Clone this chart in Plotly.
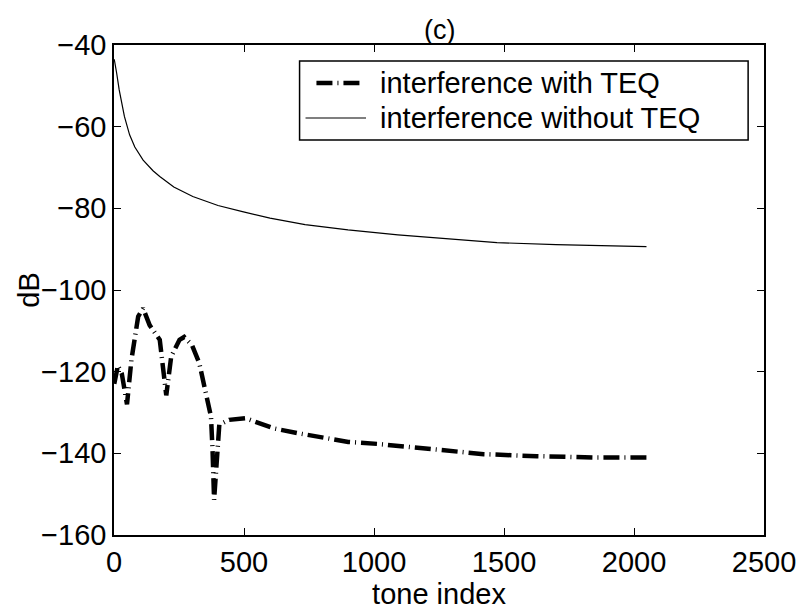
import plotly.graph_objects as go

# ---- data ----
tone_no_teq = [1, 5, 10, 20, 40, 60, 80, 112, 150, 176, 230, 303, 400, 494, 600, 735,
               900, 1092, 1300, 1473, 1700, 1855, 2048]
db_no_teq = [-43.5, -44.8, -46.8, -51.0, -57.5, -62.0, -65.0, -68.2, -70.8, -72.2, -74.8,
             -77.1, -79.3, -80.8, -82.4, -84.0, -85.3, -86.5, -87.6, -88.4, -88.9, -89.2, -89.4]

tone_teq = [1, 15, 30, 50, 67, 93, 112, 137, 176, 201, 220, 252, 270, 300, 328, 354, 373,
            379, 385, 405, 443, 506, 615, 710, 812, 901, 1015, 1219, 1422, 1626, 1842, 2048]
db_teq = [-123.0, -118.5, -120.5, -128.0, -117.1, -106.5, -104.5, -108.6, -112.2, -125.8,
          -116.3, -112.2, -111.5, -113.5, -117.9, -126.1, -131.0, -139.2, -151.4, -133.0,
          -131.8, -131.4, -133.9, -135.1, -136.1, -137.2, -137.7, -139.0, -140.2, -140.7,
          -141.0, -141.0]

series_names = ["interference with TEQ", "interference without TEQ"]
x_ticks = [0, 500, 1000, 1500, 2000, 2500]
y_ticks = [-160, -140, -120, -100, -80, -60, -40]

FONT = "Liberation Sans, Arial, Helvetica, sans-serif"
FS = 29
TEQ_DASH = "16px,5px,1px,5px"

# plot-area geometry (pixels)
L, R, T, B = 114, 769, 45, 535
W, H = 808, 614


def px(x):
    return (x - L) / (R - L)


def py(y):
    return 1 - (y - T) / (B - T)


fig = go.Figure()
fig.add_trace(go.Scatter(
    x=tone_teq, y=db_teq, mode="lines", name=series_names[0], showlegend=False,
    line=dict(color="black", width=4.5, dash=TEQ_DASH),
))
fig.add_trace(go.Scatter(
    x=tone_no_teq, y=db_no_teq, mode="lines", name=series_names[1], showlegend=False,
    line=dict(color="black", width=1.2),
))

axis_common = dict(
    showline=True, linecolor="black", linewidth=1.5, mirror="allticks",
    ticks="inside", ticklen=7, tickwidth=1, tickcolor="black",
    showgrid=False, zeroline=False,
    tickfont=dict(family=FONT, size=FS, color="black"),
)

# legend drawn as box + sample lines + texts
leg_box = (301, 61, 753, 140)
row_y = [83, 118]
shapes = [
    dict(type="rect", xref="paper", yref="paper",
         x0=px(leg_box[0]), x1=px(leg_box[2]), y0=py(leg_box[1]), y1=py(leg_box[3]),
         line=dict(color="black", width=1.5), fillcolor="white", layer="above"),
    dict(type="line", xref="paper", yref="paper",
         x0=px(318), x1=px(366), y0=py(row_y[0]), y1=py(row_y[0]),
         line=dict(color="black", width=4.5, dash=TEQ_DASH), layer="above"),
    dict(type="line", xref="paper", yref="paper",
         x0=px(307), x1=px(368), y0=py(row_y[1]), y1=py(row_y[1]),
         line=dict(color="black", width=1.2), layer="above"),
]
annotations = [
    dict(text=series_names[i], x=px(380), y=py(row_y[i]), xref="paper", yref="paper",
         xanchor="left", yanchor="middle", showarrow=False,
         font=dict(family=FONT, size=FS, color="black"))
    for i in range(2)
]
annotations += [
    dict(text="(c)", x=0.5, y=1, xref="paper", yref="paper",
         xanchor="center", yanchor="bottom", showarrow=False, yshift=-2,
         font=dict(family=FONT, size=FS - 2, color="black")),
    dict(text="dB", x=px(28), y=0.5, xref="paper", yref="paper",
         xanchor="center", yanchor="middle", textangle=-90, showarrow=False,
         font=dict(family=FONT, size=FS, color="black")),
]

fig.update_layout(
    width=W, height=H,
    margin=dict(l=L, r=W - R, t=T, b=H - B),
    paper_bgcolor="white", plot_bgcolor="white",
    font=dict(family=FONT, size=FS, color="black"),
    showlegend=False,
    xaxis=dict(range=[0, 2500], tickvals=x_ticks,
               title=dict(text="tone index", standoff=4,
                          font=dict(family=FONT, size=FS, color="black")),
               **axis_common),
    yaxis=dict(range=[-160, -40], tickvals=y_ticks, **axis_common),
    shapes=shapes,
    annotations=annotations,
)

fig.write_html("out.html")
